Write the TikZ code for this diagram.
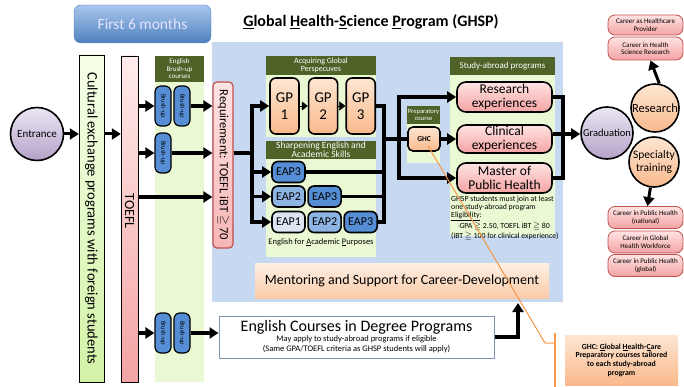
\documentclass[tikz,border=0pt]{standalone}
\usepackage{amssymb}
\usepackage{fontspec}
\setmainfont{Carlito}
\usepackage{tikz}
\usetikzlibrary{shapes.geometric, arrows.meta}
\usetikzlibrary{positioning}
\definecolor{ghspblue}{HTML}{C6D9F1}
\definecolor{hdrolive}{HTML}{4F6228}
\definecolor{lgreen}{HTML}{EAF9D3}
\definecolor{peachA}{HTML}{FDE6D2}
\definecolor{peachB}{HTML}{F9B98C}
\definecolor{pinkA}{HTML}{FFE3E3}
\definecolor{pinkB}{HTML}{F4A3A3}
\definecolor{redline}{HTML}{C0504D}
\definecolor{eapA}{HTML}{DCE6F2}
\definecolor{eapB}{HTML}{8EB4E3}
\definecolor{eapC}{HTML}{558ED5}
\definecolor{lavA}{HTML}{ECE6F4}
\definecolor{lavB}{HTML}{B3A2C7}
\definecolor{monthA}{HTML}{A9C6EE}
\definecolor{monthB}{HTML}{4F81BD}
\definecolor{greenA}{HTML}{F6FFE8}
\definecolor{greenB}{HTML}{D3F2A6}
\definecolor{callorange}{HTML}{F79646}
\definecolor{engline}{HTML}{8093B0}
\tikzstyle{thickline} = [line width=3.5pt]
\tikzstyle{thickarrow} = [line width=3.5pt, -{Triangle[length=9pt,width=11pt]}]
\tikzstyle{stepline} = [line width=0.4pt, -{Triangle[length=6pt,width=9pt]}]
\tikzstyle{header} = [fill=hdrolive, text=white, inner sep=0pt, align=center, font=\fontsize{8}{8.5}\selectfont]
\tikzstyle{brush} = [draw, line width=1.2pt, rounded corners=6pt, fill=eapC, minimum width=16pt, minimum height=40pt, inner sep=0pt, font=\fontsize{6.5}{6.5}\selectfont]
\tikzstyle{gpbox} = [draw, line width=1.6pt, rounded corners=6pt, top color=peachA, bottom color=peachB, minimum width=29pt, minimum height=56pt, inner sep=0pt, align=center, font=\fontsize{15}{17}\selectfont]
\tikzstyle{eapbox} = [draw, line width=1.6pt, rounded corners=6pt, minimum width=33pt, minimum height=21pt, inner sep=0pt, font=\fontsize{12}{13}\selectfont]
\tikzstyle{progbox} = [draw, line width=1.6pt, rounded corners=9pt, top color=pinkA, bottom color=pinkB, minimum width=95pt, minimum height=30pt, inner sep=0pt, align=center, font=\fontsize{13.5}{14}\selectfont]
\tikzstyle{career} = [draw=redline, line width=0.8pt, rounded corners=7pt, top color=pinkA, bottom color=pinkB, minimum width=75pt, minimum height=22pt, inner sep=0pt, align=center, font=\fontsize{7}{7.8}\selectfont]
\tikzstyle{stage} = [circle, draw, line width=1.6pt, inner sep=0pt, align=center]

\begin{document}
\begin{tikzpicture}[x=1pt, y=-1pt]
\useasboundingbox (0,0) rectangle (684,387);
% background areas
\fill[ghspblue] (212,42) rectangle (563,302);
\fill[lgreen] (155,56) rectangle (204,382);
\fill[lgreen] (266,75) rectangle (376,137);
\fill[lgreen] (266,159) rectangle (376,257);
\fill[lgreen] (407,124) rectangle (440,163);
\fill[lgreen] (450,75) rectangle (555,236);

\node (months) [draw=monthB, rounded corners=7pt, top color=monthA, bottom color=monthB, minimum width=137pt, minimum height=38pt, text=white!90!blue, font=\fontsize{15.5}{17}\selectfont] at (142.5,24) {First 6 months};
\node (title) at (371,22) {\fontsize{16}{18}\selectfont\textbf{\underline{G}lobal \underline{H}ealth-\underline{S}cience \underline{P}rogram (GHSP)}};

% headers
\node (brushhdr) [header, minimum width=49pt, minimum height=26pt, font=\fontsize{7}{7.5}\selectfont] at (179.5,69) {English\\Brush-up\\courses};
\node (gphdr) [header, minimum width=110pt, minimum height=19pt] at (321,65.5) {Acquiring Global\\Perspecuves};
\node (eaphdr) [header, minimum width=110pt, minimum height=18pt, font=\fontsize{9.5}{9}\selectfont] at (321,150) {Sharpening English and\\Academic Skills};
\node (prephdr) [header, minimum width=33pt, minimum height=18pt, font=\fontsize{6.5}{7}\selectfont] at (423.5,115) {Preparatory\\course};
\node (abroadhdr) [header, minimum width=105pt, minimum height=18pt, font=\fontsize{9}{9}\selectfont] at (502.5,66) {Study-abroad programs};

% entrance and columns
\node (entrance) [stage, minimum size=53pt, top color=lavA, bottom color=lavB, font=\fontsize{11}{12}\selectfont] at (37,134) {Entrance};
\node (cultural) [draw, top color=greenA, bottom color=greenB, minimum width=25pt, minimum height=327pt, inner sep=0pt, font=\fontsize{14.5}{15}\selectfont] at (91.5,218.5) {\rotatebox{-90}{Cultural exchange programs with foreign students}};
\node (toefl) [draw, top color=pinkA!70!white, bottom color=pinkB, minimum width=17pt, minimum height=326pt, inner sep=0pt, font=\fontsize{14}{15}\selectfont] at (129.5,219) {\rotatebox{-90}{TOEFL\hspace{16pt}}};

% brush-up courses
\node (b11) [brush] at (163,106) {\rotatebox{-90}{Brush-up}};
\node (b12) [brush] at (182,106) {\rotatebox{-90}{Brush-up}};
\node (b21) [brush] at (163,153) {\rotatebox{-90}{Brush-up}};
\node (b41) [brush] at (163,333) {\rotatebox{-90}{Brush-up}};
\node (b42) [brush] at (182,333) {\rotatebox{-90}{Brush-up}};

\node (req) [draw=redline, line width=1.2pt, rounded corners=4pt, top color=pinkA, bottom color=pinkB!80!white, minimum width=20pt, minimum height=166pt, inner sep=0pt, font=\fontsize{12.5}{13}\selectfont] at (223,165) {\rotatebox{-90}{Requirement: TOEFL iBT $\geqq$ 70}};

% GP and EAP courses
\node (gp1) [gpbox] at (284.5,106) {GP\\1};
\node (gp2) [gpbox, right=8pt of gp1] {GP\\2};
\node (gp3) [gpbox, right=7pt of gp2] {GP\\3};
\draw [stepline] (gp1) -- (gp2);
\draw [stepline] (gp2) -- (gp3);

\node (e13) [eapbox, fill=eapC] at (288.5,172) {EAP3};
\node (e22) [eapbox, fill=eapB] at (288.5,196.5) {EAP2};
\node (e23) [eapbox, fill=eapC, right=1.5pt of e22] {EAP3};
\node (e31) [eapbox, fill=eapA] at (288.5,222) {EAP1};
\node (e32) [eapbox, fill=eapB, right=1.5pt of e31] {EAP2};
\node (e33) [eapbox, fill=eapC, right=1.5pt of e32] {EAP3};
\node (eaplabel) [font=\fontsize{8.5}{9}\selectfont] at (321,242) {English for \underline{A}cademic \underline{P}urposes};

% study abroad
\node (ghc) [draw, line width=1.6pt, rounded corners=5pt, top color=peachA, bottom color=peachB, minimum width=32pt, minimum height=24pt, font=\fontsize{7.5}{8}\selectfont\bfseries] at (424,139) {GHC};
\node (research) [progbox] at (504.5,97) {Research\\experiences};
\node (clinical) [progbox, minimum height=28pt] at (504.5,139) {Clinical\\experiences};
\node (mph) [progbox] at (504.5,178) {Master of\\Public Health};
\node (elig) [anchor=north west, inner sep=0pt, align=left, font=\fontsize{7.8}{8}\selectfont] at (451,196) {GHSP students must join at least\\one study-abroad program\\\underline{Eligibility}:\\\hspace{6pt}$\cdot$GPA $\geqq$ 2.50, TOEFL iBT $\geqq$ 80\\(iBT $\geqq$ 100 for clinical experience)};

\node (mentor) [top color=peachA!60!white, bottom color=peachB!75!white, minimum width=294pt, minimum height=35pt, font=\fontsize{14}{15}\selectfont] at (402,280.5) {Mentoring and Support for Career-Development};
\node (eng) [draw=engline, line width=1pt, fill=white, minimum width=275pt, minimum height=42pt, inner sep=1pt, align=center, font=\fontsize{8.5}{10}\selectfont] at (356.5,337) {{\fontsize{16}{17}\selectfont English Courses in Degree Programs}\\May apply to study-abroad programs if eligible\\(Same GPA/TOEFL criteria as GHSP students will apply)};

% outcomes
\node (graduation) [stage, minimum size=52pt, top color=lavA, bottom color=lavB, font=\fontsize{10.5}{11}\selectfont] at (607,133) {Graduation};
\node (researchstage) [stage, minimum size=48pt, top color=peachA, bottom color=peachB, font=\fontsize{12.5}{13}\selectfont] at (655,108) {Research};
\node (specialty) [stage, minimum size=50pt, top color=peachA, bottom color=peachB, font=\fontsize{11.5}{13}\selectfont] at (654,162) {Specialty\\training};
\node (c1) [career, minimum height=20pt] at (645.5,25) {Career as Healthcare\\Provider};
\node (c2) [career, minimum height=23pt] at (645.5,48.5) {Career in Health\\Science Research};
\node (c3) [career] at (645.5,217.5) {Career in Public Health\\(national)};
\node (c4) [career] at (645.5,242) {Career in Global\\Health Workforce};
\node (c5) [career] at (645.5,265.5) {Career in Public Health\\(global)};

\node (ghcnote) [top color=peachA, bottom color=peachB, minimum width=113pt, minimum height=50pt, inner sep=1pt, align=center, font=\fontsize{7.8}{8.7}\selectfont\bfseries] at (621.5,360) {GHC: \underline{G}lobal \underline{H}ealth-\underline{C}are\\Preparatory courses tailored\\to each study-abroad\\program};

% connectors
\draw [thickarrow, line width=3pt] (entrance) -- (entrance -| cultural.west);
\draw [thickarrow, line width=3pt] (cultural.east |- entrance) -- (toefl.west |- entrance);
\draw [thickarrow] (toefl.east |- b11) -- (b11.west);
\draw [thickarrow] (b12.east) -- (b12 -| req.west);
\draw [thickarrow] (toefl.east |- b21) -- (b21.west);
\draw [thickarrow] (b21.east) -- (b21 -| req.west);
\coordinate (direct) at (150,197);
\draw [thickarrow] (direct -| toefl.east) -- (direct -| req.west);
\draw [thickarrow] (toefl.east |- b41) -- (b41.west);
\draw [thickarrow] (b42.east) -- (b42 -| eng.west);

\coordinate (jl) at (252,153);
\draw [thickline] (req.east |- jl) -- (jl);
\draw [thickarrow] (jl) |- (gp1.west);
\draw [thickarrow] (jl) |- (e13.west);
\draw [thickarrow] (jl) |- (e22.west);
\draw [thickarrow] (jl) |- (e31.west);

\coordinate (jr) at (384,139);
\draw [thickline] (gp3.east) -| (jr);
\draw [thickline] (e13.east) -| (jr);
\draw [thickline] (e23.east) -| (jr);
\draw [thickline] (e33.east) -| (jr);
\draw [thickline] (jr) -- (ghc.west);
\coordinate (js) at (399,139);
\draw [thickarrow] (js) |- (research.west);
\draw [thickarrow] (js) |- (mph.west);
\draw [thickarrow] (ghc.east) -- (clinical.west);

\coordinate (jg) at (563,134);
\draw [thickline] (research.east) -| (jg);
\draw [thickline] (mph.east) -| (jg);
\draw [thickline] (clinical.east |- jg) -- (jg);
\draw [thickarrow] (jg) -- (jg -| graduation.west);
\draw [thickarrow, line width=3pt] (researchstage.80) -- ([xshift=5pt]c2.south);
\draw [thickarrow, line width=3pt] (specialty.262) -- ([xshift=2pt]c3.north);

\coordinate (ghsptarget) at (518,303);
\draw [thickarrow] (eng.east) -| (ghsptarget);

% callout
\coordinate (callbend) at (545,343);
\coordinate (brtop) at (555,333);
\coordinate (brbot) at (555,387);
\draw [callorange, line width=1pt] ([shift={(4pt,-7pt)}]ghc.center) -- (callbend) -- (callbend -| brtop);
\draw [callorange, line width=1.5pt] (brtop) -- (brbot);
\end{tikzpicture}
\end{document}
